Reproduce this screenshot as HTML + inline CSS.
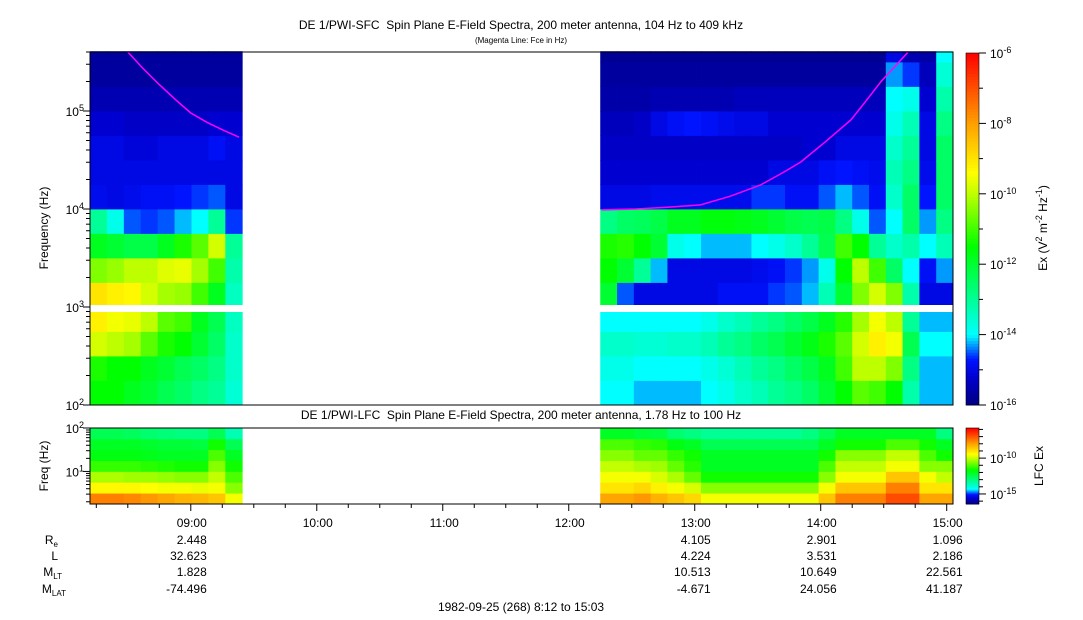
<!DOCTYPE html>
<html><head><meta charset="utf-8">
<style>
html,body{margin:0;padding:0;background:#fff;}
svg{display:block;font-family:"Liberation Sans",Arial,sans-serif;}
</style></head>
<body>
<svg id="chart" width="1083" height="620" viewBox="0 0 1083 620">
<rect width="1083" height="620" fill="#fff"/>
<text x="521" y="29" font-size="12" text-anchor="middle">DE 1/PWI-SFC&#160; Spin Plane E-Field Spectra, 200 meter antenna, 104 Hz to 409 kHz</text>
<text x="521" y="43" font-size="8" text-anchor="middle">(Magenta Line: Fce in Hz)</text>
<text x="521" y="419" font-size="12" text-anchor="middle">DE 1/PWI-LFC&#160; Spin Plane E-Field Spectra, 200 meter antenna, 1.78 Hz to 100 Hz</text>
<g id="sfc"></g>
<g id="lfc"></g>
<g id="fce"></g>
<g id="axes"></g>
<text transform="translate(48,228) rotate(-90)" font-size="12" text-anchor="middle">Frequency (Hz)</text>
<text transform="translate(48,466) rotate(-90)" font-size="12" text-anchor="middle">Freq (Hz)</text>
<text transform="translate(1047,228) rotate(-90)" font-size="12" text-anchor="middle">Ex (V<tspan dy="-5" font-size="9">2</tspan><tspan dy="5"> m</tspan><tspan dy="-5" font-size="9">-2</tspan><tspan dy="5"> Hz</tspan><tspan dy="-5" font-size="9">-1</tspan><tspan dy="5">)</tspan></text>
<text transform="translate(1043,466) rotate(-90)" font-size="12" text-anchor="middle">LFC Ex</text>
<g font-size="12" text-anchor="end">
<text x="58" y="544">R<tspan font-size="8" dy="3">e</tspan></text>
<text x="58" y="560">L</text>
<text x="62" y="576">M<tspan font-size="8" dy="3">LT</tspan></text>
<text x="66" y="593">M<tspan font-size="8" dy="3">LAT</tspan></text>
</g>
<g id="eph" font-size="12" text-anchor="end"></g>
<text x="521" y="611" font-size="12" text-anchor="middle">1982-09-25 (268) 8:12 to 15:03</text>
</svg>
<script>
// ---- data ----
const segStart = [0, 243];          // minutes after 08:12
const segEnd = [72.5, 411];
const freqRows = [2.0,2.25,2.5,2.75,3.0,3.25,3.5,3.75,4.0,4.25,4.5,4.75,5.0,5.25,5.5]; // log10 Hz lower edges
const freqTop = 5.61;
const sfcLeft = [
[-11.5,-11.3,-9.8,-9.2,-9.0,-10.5,-11.8,-13.0,-14.9,-15,-15,-15.2,-15.5,-15.7,-15.7],
[-11.5,-11.5,-10.0,-9.5,-9.2,-10.3,-12,-13.8,-15,-15,-15,-15.2,-15.5,-15.7,-15.7],
[-11.8,-11.5,-10.2,-9.6,-9.3,-10.0,-12.2,-14.5,-14.9,-15,-15.1,-15.3,-15.5,-15.7,-15.7],
[-12,-11.8,-10.8,-10.0,-9.8,-10.0,-12.2,-14.6,-14.8,-15,-15.1,-15.3,-15.5,-15.7,-15.7],
[-12.3,-12,-11.3,-10.8,-10.2,-9.7,-11.8,-14.5,-14.8,-15,-15,-15.3,-15.5,-15.7,-15.7],
[-12.5,-12.3,-11.5,-11,-10.3,-9.6,-11.3,-14.2,-14.7,-15,-15,-15.3,-15.5,-15.7,-15.7],
[-12.8,-12.5,-12,-11.8,-11,-10.2,-10.8,-14.0,-14.6,-15,-15,-15.3,-15.5,-15.7,-15.7],
[-13,-12.8,-12.5,-12.3,-11.8,-11,-9.8,-13.0,-14.5,-15,-14.8,-15.2,-15.5,-15.7,-15.7],
[-13.6,-13.5,-13.5,-13.4,-13.4,-13.2,-13,-14.6,-15,-15,-15,-15.2,-15.5,-15.7,-15.7]
];
const sfcRight = [
[-14.0,-13.8,-13.5,-14,-12,-11.5,-11.3,-12.8,-15,-15.2,-15.3,-15.4,-15.6,-15.7,-15.8],
[-14.0,-13.8,-13.5,-14,-14.5,-12,-11.2,-12.5,-15,-15.2,-15.3,-15.4,-15.6,-15.7,-15.8],
[-14.2,-14,-13.6,-14,-15,-13,-11.5,-12.4,-15,-15.2,-15.3,-15.3,-15.6,-15.7,-15.8],
[-14.2,-14,-13.6,-14,-15,-14.2,-12,-12.2,-14.9,-15.2,-15.3,-15.0,-15.5,-15.7,-15.8],
[-14.2,-14,-13.5,-14,-15,-15,-13.8,-11.8,-14.9,-15.2,-15.3,-14.8,-15.5,-15.7,-15.8],
[-14.2,-14,-13.5,-14,-15,-15,-14,-11.8,-14.9,-15.2,-15.3,-14.7,-15.5,-15.7,-15.8],
[-14,-13.8,-13.3,-13.8,-15,-15,-14.2,-11.6,-14.9,-15.2,-15.3,-14.8,-15.5,-15.7,-15.8],
[-13.8,-13.6,-13,-13.5,-14.8,-15,-14.2,-11.6,-14.9,-15.2,-15.3,-14.9,-15.5,-15.7,-15.8],
[-13.5,-13.3,-12.8,-13.3,-14.8,-15,-14.2,-11.7,-14.9,-15.2,-15.3,-15.0,-15.4,-15.7,-15.8],
[-13.3,-13.0,-12.5,-13,-14.8,-14.9,-14,-11.8,-14.6,-15.2,-15.3,-15.0,-15.4,-15.7,-15.8],
[-13.0,-12.8,-12.3,-12.8,-14.6,-14.8,-13.8,-12.0,-14.6,-15.0,-15.3,-15.2,-15.4,-15.7,-15.8],
[-12.8,-12.5,-12,-12.5,-14.5,-14.6,-13.5,-12.2,-14.8,-15.0,-15.3,-15.2,-15.4,-15.7,-15.8],
[-12.5,-12.2,-11.7,-12.2,-14.2,-14.3,-13,-12.3,-14.8,-15.0,-15.2,-15.2,-15.4,-15.7,-15.8],
[-12.0,-11.8,-11.3,-11.8,-13.3,-13.8,-12.3,-12.2,-14.5,-14.8,-15.2,-15.2,-15.4,-15.7,-15.8],
[-11.5,-11,-10.8,-11.2,-12,-11.5,-11,-12.8,-14.2,-14.7,-15.0,-15.2,-15.4,-15.7,-15.8],
[-10.8,-10,-9.8,-10.2,-10.5,-10,-11.5,-13.8,-14.5,-14.8,-15.0,-15.2,-15.4,-15.7,-15.8],
[-11,-10,-9.2,-9.5,-9.8,-11,-13,-14.5,-14.8,-14.9,-15.0,-15.2,-15.4,-15.7,-15.8],
[-11.5,-10.5,-9.5,-10,-10.5,-12.5,-13.5,-14,-13.5,-13.3,-13.5,-13.8,-14,-14.3,-15],
[-13.2,-12.8,-12.3,-13,-13.2,-14,-13.2,-12.5,-12.5,-12.8,-13,-13.3,-13.8,-14.6,-15.5],
[-14.2,-14.2,-14,-14.2,-15,-14.8,-14,-14.3,-14.7,-14.9,-15,-15,-15.2,-15.4,-15.6],
[-14.2,-14.2,-14,-14.2,-15,-14.3,-13.3,-12.8,-12.5,-12.5,-12.5,-12.8,-13.2,-13.6,-14]
];
const lfcRows = [0.25,0.5,0.75,1.0,1.25,1.5,1.75];
const lfcTop = 2.0;
const lfcLeft = [
[-7.5,-9.3,-10.2,-11.2,-11.8,-12,-12.5],[-7.5,-9.3,-10.2,-11.2,-11.8,-12,-12.5],
[-7.6,-9.3,-10.3,-11.2,-11.8,-12,-12.6],[-7.8,-9.4,-10.3,-11.3,-11.9,-12.1,-12.8],
[-8,-9.5,-10.4,-11.4,-12,-12.2,-12.9],[-8.2,-9.5,-10.5,-11.5,-12,-12.2,-13],
[-8.3,-9.6,-10.5,-11.5,-12,-12.3,-13],[-8.5,-9.5,-10,-10.5,-11,-11.5,-12.5],
[-9.5,-10.5,-11,-11.5,-12,-12.5,-13.5]
];
const lfcRight = [
[-8,-9,-9.5,-10,-10.5,-11,-12],[-8,-9,-9.5,-10,-10.5,-11,-12],[-7.8,-8.8,-9.5,-10.2,-10.8,-11.2,-12.2],
[-8.2,-9.2,-9.8,-10.3,-10.8,-11.3,-12.3],[-8.5,-9.5,-10.2,-10.8,-11.2,-11.8,-12.8],[-8.8,-9.8,-10.8,-11.3,-11.5,-12,-13],
[-9.5,-10.5,-11.5,-12,-12,-12.5,-13.2],[-9.5,-10.5,-11.5,-12,-12,-12.5,-13.2],[-9.5,-10.5,-11.5,-12,-12,-12.5,-13.2],
[-9.5,-10.5,-11.5,-12,-12,-12.5,-13.2],[-9.5,-10.5,-11.5,-12,-12,-12.5,-13.2],[-9.5,-10.5,-11.5,-12,-12,-12.5,-13.2],
[-9.5,-10.5,-11.5,-12,-12,-12.5,-13],[-8.5,-9.5,-10.5,-11,-11.5,-12,-12.5],[-7.5,-8.5,-9.5,-10,-10.5,-11.5,-12],
[-7.5,-8.5,-9.5,-10,-10.5,-11.5,-12],[-7.5,-8.5,-9.5,-10,-10.5,-11.5,-12],[-6.8,-7.5,-8.5,-9.5,-10,-11,-12],
[-6.8,-7.5,-8.5,-9.5,-10,-11,-12],[-8,-9,-9.5,-10.5,-11,-11.5,-12],[-8,-9,-10,-10.5,-11.5,-12,-13]
];
const fceTimesL = [18,25,33,41,48,56,64,71];
const fceHzL = [407000,275000,186000,129000,95500,76000,63000,54000];
const fceTimesR = [243.6,260,275,290.8,305,319.4,330,338.5,350,362.4,370,376.7,383,389.5];
const fceHzR = [9800,10000,10400,11000,13500,17600,23500,30200,48000,81300,130000,199500,280000,398000];
const tickHours = ["09:00","10:00","11:00","12:00","13:00","14:00","15:00"];
const tickMinutes = [48,108,168,228,288,348,408];
const ephTimes = [48,288,348,408];
const ephRe = ["2.448","4.105","2.901","1.096"];
const ephL = ["32.623","4.224","3.531","2.186"];
const ephMLT = ["1.828","10.513","10.649","22.561"];
const ephMLAT = ["-74.496","-4.671","24.056","41.187"];

// ---- scales ----
const X0=90, X1=953, T1=411;
const xOf = t => X0 + t*(X1-X0)/T1;
const yTop = lf => 405 - (lf-2)*98;
const yLfc = lf => 504 - (lf-0.25)*76/1.75;
const NS="http://www.w3.org/2000/svg";
function el(tag, attrs, parent){const e=document.createElementNS(NS,tag);for(const k in attrs)e.setAttribute(k,attrs[k]);parent.appendChild(e);return e;}
const stops=[[0,[0,0,128]],[0.08,[0,0,208]],[0.13,[0,20,255]],[0.2,[0,255,255]],[0.3,[0,255,150]],[0.45,[0,255,0]],[0.6,[190,255,0]],[0.66,[255,255,0]],[0.8,[255,160,0]],[1,[255,0,0]]];
function cmap(f){f=Math.max(0,Math.min(1,f));for(let i=1;i<stops.length;i++){if(f<=stops[i][0]){const a=stops[i-1],b=stops[i],u=(f-a[0])/(b[0]-a[0]);return `rgb(${a[1].map((v,j)=>Math.round(v+(b[1][j]-v)*u)).join(',')})`;}}return 'rgb(255,0,0)';}

// ---- heatmaps ----
function drawHeat(g, segs, rows, top, yf, vmin, vmax, name){
  segs.forEach((cols, s)=>{
    const w=(segEnd[s]-segStart[s])/cols.length;
    cols.forEach((col,c)=>{
      const xa=xOf(segStart[s]+c*w), xb=xOf(segStart[s]+(c+1)*w);
      col.forEach((v,r)=>{
        const hi = r+1<rows.length?rows[r+1]:top;
        const ya=yf(hi), yb=yf(rows[r]);
        const rc=el('rect',{x:xa.toFixed(2),y:ya.toFixed(2),width:(xb-xa+0.4).toFixed(2),height:(yb-ya+0.4).toFixed(2),fill:cmap((v-vmin)/(vmax-vmin))},g);
        
        
      });
    });
  });
}
drawHeat(document.getElementById('sfc'), [sfcLeft,sfcRight], freqRows, freqTop, yTop, -16, -6, 'sfc-cell');
drawHeat(document.getElementById('lfc'), [lfcLeft,lfcRight], lfcRows, lfcTop, yLfc, -16.4, -5.8, 'lfc-cell');
const gapR = el('rect',{x:X0,y:305,width:X1-X0,height:7,fill:'#fff'},document.getElementById('sfc'));



// ---- Fce line ----
const fg=document.getElementById('fce');
[[fceTimesL,fceHzL],[fceTimesR,fceHzR]].forEach(([ts,hz])=>{
  const pts=ts.map((t,i)=>`${xOf(t).toFixed(1)},${Math.max(52,yTop(Math.log10(hz[i]))).toFixed(1)}`).join(' ');
  const p=el('polyline',{points:pts,fill:'none',stroke:'#ff00ff','stroke-width':1.5},fg);
  
  
});

// ---- axes ----
const ax=document.getElementById('axes');
el('rect',{x:X0,y:52,width:X1-X0,height:353,fill:'none',stroke:'#000','stroke-width':1},ax);
el('rect',{x:X0,y:428,width:X1-X0,height:76,fill:'none',stroke:'#000','stroke-width':1},ax);
function ylabel(x,y,exp,name){const t=el('text',{x:x,y:y,'font-size':12,'text-anchor':'end'},ax);t.textContent='10';const s=el('tspan',{dy:-5,'font-size':9},t);s.textContent=exp;}
for(let d=2;d<=5;d++){
  for(let m=1;m<=9;m++){const lf=d+Math.log10(m);if(lf>freqTop)break;const y=yTop(lf);el('line',{x1:X0,x2:X0-(m==1?7:4),y1:y,y2:y,stroke:'#000'},ax);}
  ylabel(84,yTop(d)+5,String(d),'y-tick-label');
}
for(let d=0;d<=2;d++){
  for(let m=1;m<=9;m++){const lf=d+Math.log10(m);if(lf<0.25||lf>2)continue;const y=yLfc(lf);el('line',{x1:X0,x2:X0-(m==1?7:4),y1:y,y2:y,stroke:'#000'},ax);}
  if(d>=1) ylabel(84,yLfc(d)+5,String(d),'lfc-y-tick-label');
}
for(let t=3;t<=411;t+=15){const x=xOf(t);const major=((t-48)%60===0);el('line',{x1:x,x2:x,y1:504,y2:504+(major?7:4),stroke:'#000'},ax);}
tickMinutes.forEach((t,i)=>{const tx=el('text',{x:xOf(t)+16,y:527,'font-size':12,'text-anchor':'end'},ax);tx.textContent=tickHours[i];});
const eg=document.getElementById('eph');
ephTimes.forEach((t,i)=>{[[ephRe,544],[ephL,560],[ephMLT,576],[ephMLAT,593]].forEach(([arr,y])=>{const tx=el('text',{x:xOf(t)+16,y:y},eg);tx.textContent=arr[i];});});

// ---- colorbars ----
const CB0=966, CB1=979;
function colorbar(y0,y1,vmin,vmax,name){
  const n=120;
  for(let i=0;i<n;i++){const f=(i+0.5)/n;const ya=y1-(i+1)*(y1-y0)/n;const r=el('rect',{x:CB0,y:ya.toFixed(2),width:CB1-CB0,height:((y1-y0)/n+0.5).toFixed(2),fill:cmap(f)},ax);}
  el('rect',{x:CB0,y:y0,width:CB1-CB0,height:y1-y0,fill:'none',stroke:'#000','stroke-width':0.6},ax);
}
colorbar(53,405,-16,-6,'sfc-colorbar');
colorbar(428,504,-16.4,-5.8,'lfc-colorbar');
const cy=v=>405-(v+16)*35.2;
for(let v=-16;v<=-6;v++){const y=cy(v);el('line',{x1:CB1,x2:CB1+(v%2===0?7:4),y1:y,y2:y,stroke:'#000'},ax);
  if(v%2===0){const t=el('text',{x:990,y:y+5,'font-size':12},ax);t.textContent='10';const s=el('tspan',{dy:-5,'font-size':9},t);s.textContent=String(v);}}
const ly=v=>504-(v+16.4)*76/10.6;
for(let v=-16;v<=-6;v++){const y=ly(v);el('line',{x1:CB1,x2:CB1+(v%5===0?7:4),y1:y,y2:y,stroke:'#000'},ax);
  if(v===-10||v===-15){const t=el('text',{x:990,y:y+5,'font-size':12},ax);t.textContent='10';const s=el('tspan',{dy:-5,'font-size':9},t);s.textContent=String(v);}}
</script>
</body></html>
